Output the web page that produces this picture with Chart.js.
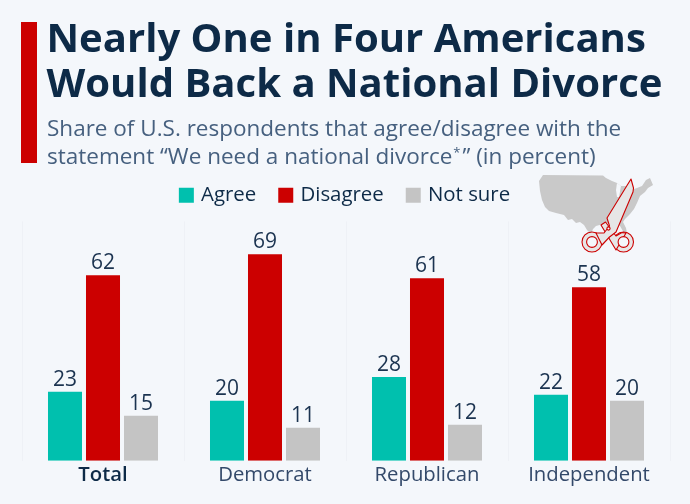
<!DOCTYPE html>
<html>
<head>
<meta charset="utf-8">
<title>Nearly One in Four Americans Would Back a National Divorce</title>
<script src="https://cdn.jsdelivr.net/npm/chart.js@4"></script>
<style>
  html, body { margin: 0; padding: 0; background: #f4f7fb; }
  #page { position: relative; width: 690px; height: 504px; overflow: hidden; font-family: "Open Sans", sans-serif; }
  #accent { position: absolute; left: 21px; top: 22px; width: 16px; height: 141px; background: #cc0000; }
  h1 { position: absolute; left: 46.5px; top: 15px; margin: 0; font-size: 40.1px; line-height: 44.5px; font-weight: 700; color: #0d2a47; white-space: nowrap; }
  #sub { position: absolute; left: 47px; top: 114px; font-size: 22.5px; line-height: 28px; color: #46607f; white-space: nowrap; }
  #sub sup { font-size: 13px; line-height: 0; vertical-align: 7px; padding: 0 2px 0 1px; }
  canvas { position: absolute; left: 0; top: 0; }
  #icon { position: absolute; left: 0; top: 0; }
</style>
</head>
<body>
<div id="page">
  <canvas id="chart" width="690" height="504"></canvas>
  <div id="accent"></div>
  <h1>Nearly One in Four Americans<br>Would Back a National Divorce</h1>
  <div id="sub">Share of U.S. respondents that agree/disagree with the<br>statement “We need a national divorce<sup>*</sup>” (in percent)</div>
  <!-- map with scissors next to the legend -->
  <svg id="icon" width="690" height="504" viewBox="0 0 690 504">
    <path fill="#c9c9c9" d="M543 175 L603 175.5 L606 178 L612 181 L617 183 L621 186 L626 186 L627 192 L631 190 L637 188 L642 186 L646 180 L650 178 L653 185 L648 188 L645 192 L640 196 L637 203 L634 209 L630 214 L625 219 L623 222 L626 228 L627 233 L624 233 L620 226 L617 223 L610 223 L603 224 L596 226 L593 229 L591 234 L587 230 L584 225 L580 222 L576 223 L572 219 L568 220 L564 215 L556 213 L549 211 L545 207 L542 200 L540 191 L539 181 Z"/>
    <path fill="#f4f7fb" d="M617 183 L621 186 L619 197 L617 197 L616 190 Z"/>
    <g fill="#e6e6e6" stroke="#cc0000" stroke-width="1.1" stroke-linejoin="round">
      <circle cx="592" cy="242" r="10"/>
      <circle cx="623.5" cy="242" r="10"/>
      <path d="M601 225 L605.5 222 L616 236 L622 232.6 L626 233 L616 250 Z"/>
      <path d="M631 179 L633.5 188 L633 192 L616 232 L609.5 237 L602 245 L596 233 L604 233 L609.5 226 L607 218 Z"/>
      <circle cx="592" cy="242" r="5.4" fill="#f4f7fb"/>
      <circle cx="623.5" cy="242" r="5.4" fill="#f4f7fb"/>
      <circle cx="608.5" cy="228.5" r="1.6" fill="#f4f7fb"/>
    </g>
  </svg>
</div>
<script>
const categories = ['Total', 'Democrat', 'Republican', 'Independent'];
const agree = [23, 20, 28, 22];
const disagree = [62, 69, 61, 58];
const notSure = [15, 11, 12, 20];

const darkText = '#0d2a47';
const tickText = '#33496a';
const fontFamily = '"Open Sans", sans-serif';

// prints the value above every bar
const barValues = {
  id: 'barValues',
  afterDatasetsDraw(chart) {
    const ctx = chart.ctx;
    ctx.save();
    ctx.font = '21px ' + fontFamily;
    ctx.fillStyle = '#1b3350';
    ctx.textAlign = 'center';
    ctx.textBaseline = 'alphabetic';
    chart.data.datasets.forEach((ds, i) => {
      chart.getDatasetMeta(i).data.forEach((bar, j) => {
        ctx.fillText(ds.data[j], bar.x, bar.y - 6);
      });
    });
    ctx.restore();
  }
};

// keeps some room between the legend row and the bars
const legendGap = {
  id: 'legendGap',
  beforeInit(chart) {
    const fit = chart.legend.fit;
    chart.legend.fit = function () {
      fit.call(this);
      this.height += 6;
    };
  }
};

new Chart(document.getElementById('chart'), {
  type: 'bar',
  data: {
    labels: categories,
    datasets: [
      { label: 'Agree', data: agree, backgroundColor: '#00c0ae' },
      { label: 'Disagree', data: disagree, backgroundColor: '#cc0000' },
      { label: 'Not sure', data: notSure, backgroundColor: '#c4c4c4' }
    ]
  },
  options: {
    responsive: false,
    animation: false,
    categoryPercentage: 0.7037,
    barPercentage: 0.895,
    layout: { padding: { top: 160, left: 22, right: 20, bottom: 15 } },
    plugins: {
      legend: {
        position: 'top',
        onClick: null,
        labels: {
          usePointStyle: true,
          pointStyle: 'rect',
          boxWidth: 9,
          boxHeight: 15,
          padding: 25,
          color: darkText,
          font: { family: fontFamily, size: 20.4 }
        }
      },
      tooltip: { enabled: false }
    },
    scales: {
      x: {
        grid: { color: '#eef1f6', drawTicks: false, offset: true },
        border: { display: false },
        ticks: {
          padding: 2,
          maxRotation: 0,
          color: ctx => ctx.index === 0 ? darkText : tickText,
          font: ctx => ({ family: fontFamily, size: 20.3, weight: ctx.index === 0 ? '600' : '400' })
        }
      },
      y: {
        display: false,
        min: 0,
        max: 80
      }
    }
  },
  plugins: [barValues, legendGap]
});
</script>
</body>
</html>
